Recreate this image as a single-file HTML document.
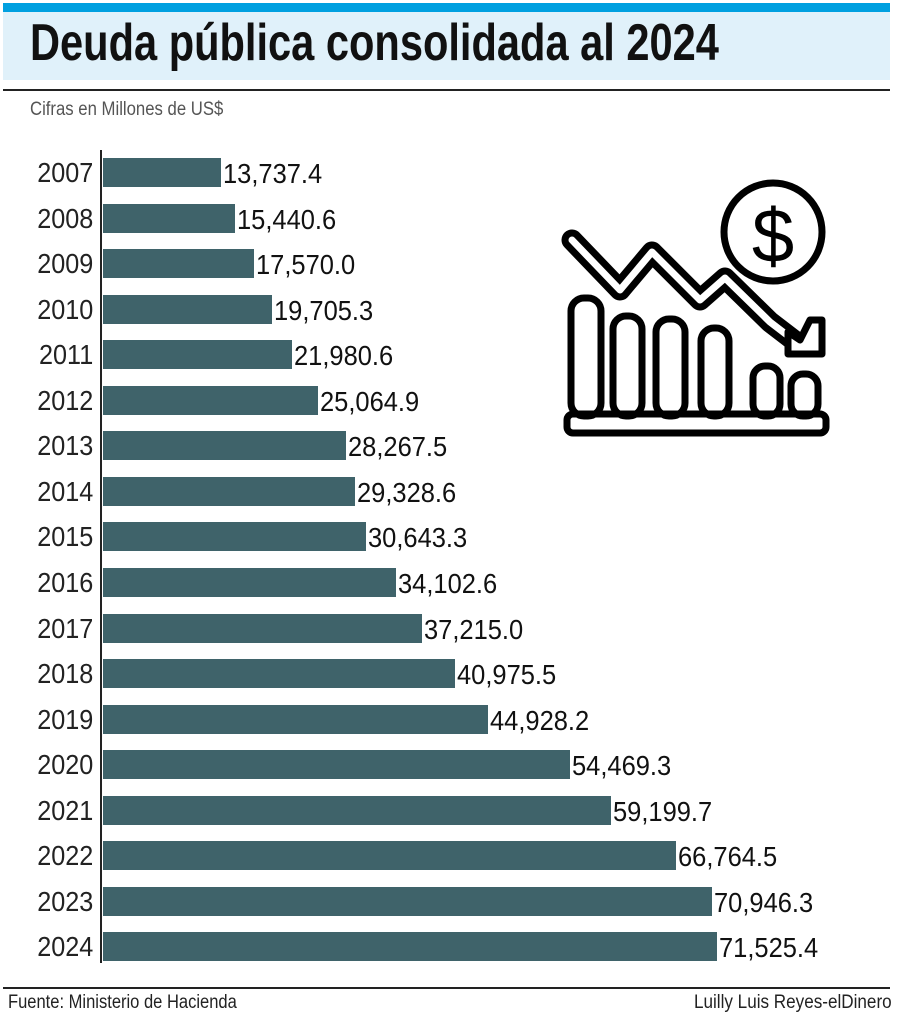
<!DOCTYPE html>
<html><head><meta charset="utf-8"><style>
body{margin:0;width:900px;height:1036px;background:#fff;position:relative;overflow:hidden;font-family:"Liberation Sans",sans-serif}
.a{position:absolute}
.t{transform-origin:0 0;white-space:nowrap}
.bar{position:absolute;left:103px;height:29px;background:#3f636a}
.yr{position:absolute;right:807px;font-size:28px;color:#222;transform:scaleX(.9);transform-origin:100% 50%;line-height:29px}
.v{position:absolute;font-size:28px;color:#111;transform:scaleX(.91);transform-origin:0 50%;line-height:29px;white-space:nowrap}
</style></head><body>
<div class="a" style="left:3px;top:3px;width:887px;height:9px;background:#00a0e0"></div>
<div class="a" style="left:3px;top:12px;width:887px;height:68px;background:#e0f1fa"></div>
<div class="a t" style="left:30px;top:13px;font-size:52px;font-weight:bold;color:#111;transform:scaleX(.8)">Deuda pública consolidada al 2024</div>
<div class="a" style="left:3px;top:89px;width:887px;height:2px;background:#222"></div>
<div class="a t" style="left:30px;top:99px;font-size:19px;color:#555;transform:scaleX(.88)">Cifras en Millones de US$</div>
<div class="a" style="left:100px;top:150px;width:2px;height:813px;background:#222"></div>
<div id="c"></div>
<svg class="a" style="left:0;top:0" width="900" height="1036">
<g fill="none" stroke="#000" stroke-width="7" stroke-linejoin="round">
<circle cx="773" cy="232" r="49"/>
<rect x="571" y="298" width="30" height="118" rx="13"/>
<rect x="613" y="316" width="29" height="100" rx="13"/>
<rect x="656" y="319" width="29" height="97" rx="13"/>
<rect x="701" y="328" width="28" height="88" rx="13"/>
<rect x="753" y="366" width="27" height="50" rx="12"/>
<rect x="791" y="374" width="27" height="42" rx="12"/>
<rect x="567" y="414" width="259" height="19" rx="6"/>
</g>
<text x="773" y="262" font-size="76" font-family="Liberation Sans" text-anchor="middle" fill="#000">$</text>
<polyline points="572,240 620,290 652,252 700,300 725,278 770,322 800,345" fill="none" stroke="#000" stroke-width="21" stroke-linejoin="round" stroke-linecap="round"/>
<polyline points="572,240 620,290 652,252 700,300 725,278 770,322 800,345" fill="none" stroke="#fff" stroke-width="7" stroke-linejoin="round" stroke-linecap="round"/>
<path d="M788,332 L788,354 L822,354 L822,320 L810,320 L800,340 Z" fill="#fff" stroke="#000" stroke-width="7" stroke-linejoin="round"/>
</svg>
<div class="a" style="left:3px;top:987px;width:887px;height:2px;background:#222"></div>
<div class="a t" style="left:8px;top:992px;font-size:19px;color:#222;transform:scaleX(.87)">Fuente: Ministerio de Hacienda</div>
<div class="a" style="right:8px;top:992px;font-size:19px;color:#222;transform:scaleX(.9);transform-origin:100% 0;white-space:nowrap">Luilly Luis Reyes-elDinero</div>
<script>
var d=[["2007","13,737.4"],["2008","15,440.6"],["2009","17,570.0"],["2010","19,705.3"],["2011","21,980.6"],["2012","25,064.9"],["2013","28,267.5"],["2014","29,328.6"],["2015","30,643.3"],["2016","34,102.6"],["2017","37,215.0"],["2018","40,975.5"],["2019","44,928.2"],["2020","54,469.3"],["2021","59,199.7"],["2022","66,764.5"],["2023","70,946.3"],["2024","71,525.4"]];
var h="";d.forEach(function(r,i){var y=158+i*45.55,w=parseFloat(r[1].replace(",",""))*0.00858;
h+='<div class="yr" style="top:'+y+'px">'+r[0]+'</div><div class="bar" style="top:'+y+'px;width:'+w+'px"></div><div class="v" style="top:'+(y+1)+'px;left:'+(105+w)+'px">'+r[1]+'</div>';});
document.getElementById("c").innerHTML=h;
</script>
</body></html>
